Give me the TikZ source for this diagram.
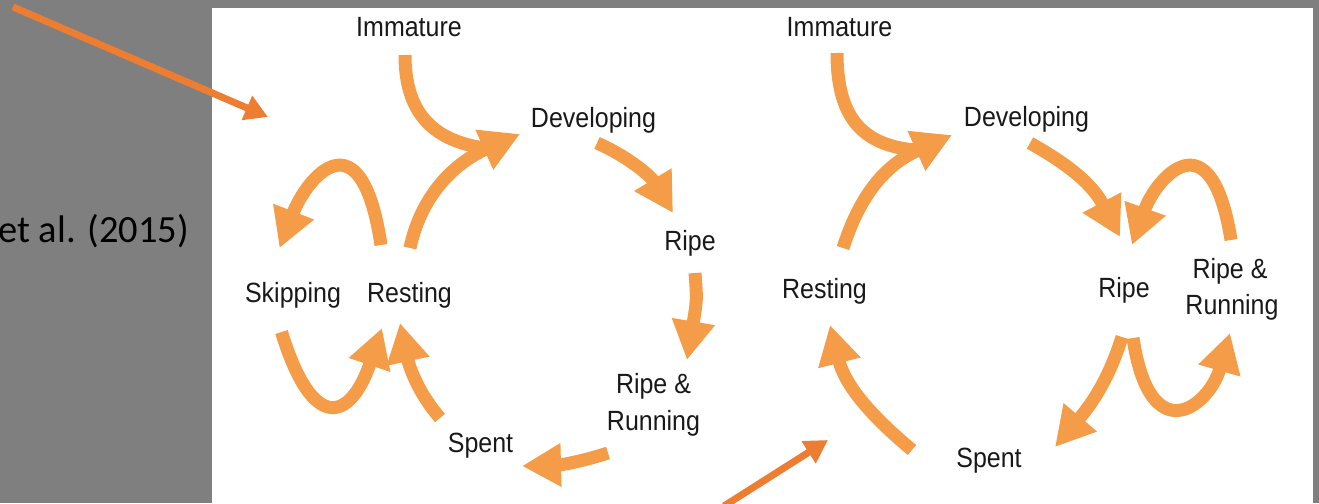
\documentclass[tikz,border=0pt]{standalone}
\usepackage{fontspec}
\setmainfont{Liberation Sans}
\newfontfamily\calibrifont{Carlito}
\usetikzlibrary{arrows.meta}
\definecolor{arr}{RGB}{244,156,72}
\definecolor{ptr}{RGB}{237,125,49}
\definecolor{bggray}{RGB}{127,127,127}
\newcommand{\tallword}[1]{\scalebox{0.98}[1.09]{#1}}
\tikzset{
  lbl/.style={inner sep=0pt, anchor=base, font=\fontsize{25.5}{30}\selectfont, text=black!90},
  fat/.style={draw=arr, line width=13pt, -{Triangle[length=39pt,width=41pt]}},
  fatplain/.style={draw=arr, line width=13pt},
  pointer/.style={draw=ptr, line width=7pt, -{Triangle[length=23pt,width=25pt]}},
}
\begin{document}
\begin{tikzpicture}[x=1pt,y=-1pt]
\useasboundingbox (0,0) rectangle (1319,503);
\fill[bggray] (0,0) rectangle (1319,503);
\fill[white] (212,8) rectangle (1313,503);
\node[inner sep=0pt, anchor=base east, font=\calibrifont\fontsize{38.5}{46}\selectfont] (cite) at (189,242) {et al. (2015)};
% left cycle labels
\node[lbl] (imm1) at (409,37) {\tallword{Immature}};
\node[lbl] (dev1) at (593.5,127) {\tallword{Developing}};
\node[lbl] (ripe1) at (690,250) {\tallword{Ripe}};
\node[lbl] (skip1) at (293,302) {\tallword{Skipping}};
\node[lbl] (rest1) at (409.5,302) {\tallword{Resting}};
\node[lbl] (rr1a) at (653.5,393) {\tallword{Ripe \&}};
\node[lbl] (rr1b) at (653.5,430) {\tallword{Running}};
\node[lbl] (spent1) at (480.5,452) {\tallword{Spent}};
% right cycle labels
\node[lbl] (imm2) at (839.5,37) {\tallword{Immature}};
\node[lbl] (dev2) at (1026.5,126) {\tallword{Developing}};
\node[lbl] (rest2) at (824.5,298) {\tallword{Resting}};
\node[lbl] (ripe2) at (1124,297) {\tallword{Ripe}};
\node[lbl] (rr2a) at (1230,278) {\tallword{Ripe \&}};
\node[lbl] (rr2b) at (1232,314) {\tallword{Running}};
\node[lbl] (spent2) at (989,467) {\tallword{Spent}};
% left cycle arrows
\draw[fatplain] ([shift={(-4,18)}]imm1.base) .. controls (405,110) and (430,140) .. ([shift={(-109.5,21)}]dev1.base);
\draw[fat] ([shift={(0.5,-54)}]rest1.base) .. controls (420,200) and (450,165) .. ([shift={(-73.5,7)}]dev1.base);
\draw[fat] ([shift={(-28.5,-57)}]rest1.base) .. controls (361,112) and (307,177) .. ([shift={(-13.5,-54)}]skip1.base);
\draw[fat] ([shift={(-11.5,30)}]skip1.base) .. controls (313,435) and (351,420) .. ([shift={(-27.5,26)}]rest1.base);
\draw[fat] ([shift={(-40.5,-34)}]spent1.base) .. controls (420,395) and (410,370) .. ([shift={(-9.5,21)}]rest1.base);
\draw[fat] ([shift={(-45.5,23)}]rr1b.base) .. controls (580,462) and (560,465) .. ([shift={(41.5,14)}]spent1.base);
\draw[fat] ([shift={(5,23)}]ripe1.base) .. controls (697,300) .. ([shift={(33.5,-33)}]rr1a.base);
\draw[fat] ([shift={(3.5,16)}]dev1.base) .. controls (625,155) and (650,175) .. ([shift={(-17,-37)}]ripe1.base);
% right cycle arrows
\draw[fatplain] ([shift={(-2.5,16)}]imm2.base) .. controls (837,115) and (860,145) .. ([shift={(-111.5,24)}]dev2.base);
\draw[fat] ([shift={(18.5,-50)}]rest2.base) .. controls (860,195) and (885,165) .. ([shift={(-74.5,9)}]dev2.base);
\draw[fat] ([shift={(3.5,17)}]dev2.base) .. controls (1060,160) and (1090,180) .. ([shift={(-4,-60)}]ripe2.base);
\draw[fat] ([shift={(1,-38)}]rr2a.base) .. controls (1211,114) and (1156,178) .. ([shift={(8,-52)}]ripe2.base);
\draw[fat] ([shift={(-77,-17)}]spent2.base) .. controls (870,415) and (845,385) .. ([shift={(5.5,27)}]rest2.base);
\draw[fat] ([shift={(-2,40)}]ripe2.base) .. controls (1110,375) and (1095,400) .. ([shift={(66,-20)}]spent2.base);
\draw[fat] ([shift={(9,41)}]ripe2.base) .. controls (1150,452) and (1209,407) .. ([shift={(-2,19)}]rr2b.base);
% pointer arrows
\coordinate (p1s) at (13,7);
\coordinate (p1e) at (268,117);
\coordinate (p2s) at (724,506);
\coordinate (p2e) at (828,440);
\draw[pointer] (p1s) -- (p1e);
\draw[pointer] (p2s) -- (p2e);
\end{tikzpicture}
\end{document}
